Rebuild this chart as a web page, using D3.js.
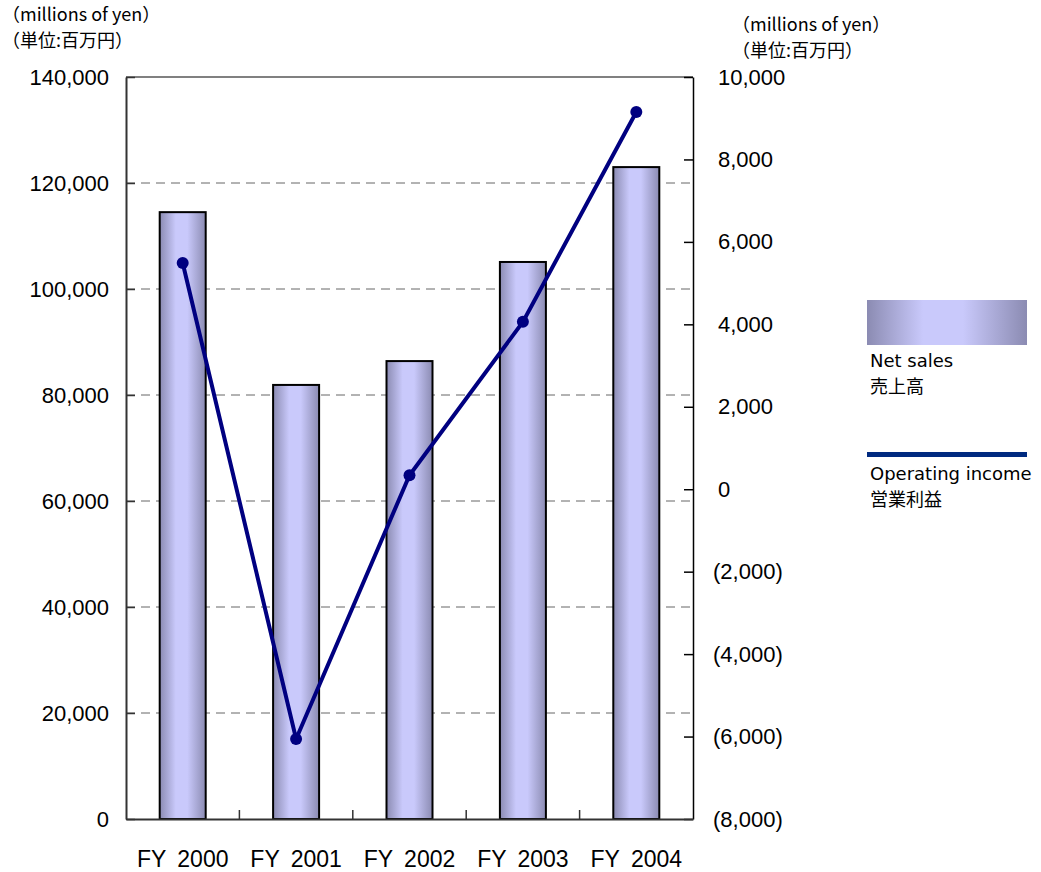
<!DOCTYPE html>
<html lang="en">
<head>
    <meta charset="UTF-8">
    <title>Net sales / Operating income</title>
    <script src="https://d3js.org/d3.v7.min.js"></script>
    <style>
        html, body{
            margin:0;
            background:#fff;
        }
        .tick text{
            font-family: "Liberation Sans", Arial, sans-serif;
        }
        .unit{
            font-family: "Noto Sans CJK JP", sans-serif;
            font-size: 18px;
        }
        .legend text{
            font-family: "DejaVu Sans", "Noto Sans CJK JP", sans-serif;
            font-size: 18px;
        }
    </style>
</head>
<body>
<div id="chart"></div>
<script>
    // data
    var years = ["FY 2000", "FY 2001", "FY 2002", "FY 2003", "FY 2004"];
    var netSales = [114500, 81900, 86400, 105100, 123000];
    var opIncome = [5490, -6060, 340, 4060, 9150];
    var leftTicks = [0, 20000, 40000, 60000, 80000, 100000, 120000, 140000];
    var rightTicks = [-8000, -6000, -4000, -2000, 0, 2000, 4000, 6000, 8000, 10000];

    var W = 1041, H = 872;
    var margin = {top: 77, left: 126, right: W - 693, bottom: H - 819};
    var width = W - margin.left - margin.right,
        height = H - margin.top - margin.bottom;

    var svg = d3.select("#chart").append("svg")
        .attr("width", W)
        .attr("height", H);

    var defs = svg.append("defs");
    var grad = defs.append("linearGradient")
        .attr("id", "barGrad")
        .attr("x1", "0%").attr("x2", "100%").attr("y1", "0%").attr("y2", "0%");
    grad.append("stop").attr("offset", "0%").attr("stop-color", "#8b8bb2");
    grad.append("stop").attr("offset", "35%").attr("stop-color", "#c9c9fb");
    grad.append("stop").attr("offset", "60%").attr("stop-color", "#c9c9fb");
    grad.append("stop").attr("offset", "100%").attr("stop-color", "#8b8bb2");

    var g = svg.append("g")
        .attr("transform", "translate(" + margin.left + "," + margin.top + ")");

    var x = d3.scaleBand().domain(years).range([0, width]);
    var yL = d3.scaleLinear().domain([0, 140000]).range([height, 0]);
    var yR = d3.scaleLinear().domain([-8000, 10000]).range([height, 0]);

    var fmt = d3.format(",");
    var fmtR = function(d) { return d < 0 ? "(" + fmt(-d) + ")" : fmt(d); };

    // dashed gridlines
    g.append("g")
        .selectAll("line")
        .data(leftTicks.filter(function(d) { return d > 0 && d < 140000; }))
        .join("line")
        .attr("x1", 0).attr("x2", width)
        .attr("y1", function(d) { return yL(d); })
        .attr("y2", function(d) { return yL(d); })
        .attr("stroke", "#666")
        .attr("stroke-width", 1)
        .attr("stroke-dasharray", "9,6");

    // top border
    g.append("line")
        .attr("x1", 0).attr("x2", width)
        .attr("y1", 0).attr("y2", 0)
        .attr("stroke", "#808080")
        .attr("stroke-width", 2);

    // bars
    var bw = 46;
    g.selectAll(".bar")
        .data(netSales)
        .join("rect")
        .attr("class", "bar")
        .attr("x", function(d, i) { return x(years[i]) + x.bandwidth() / 2 - bw / 2; })
        .attr("y", function(d) { return yL(d); })
        .attr("width", bw)
        .attr("height", function(d) { return height - yL(d); })
        .attr("fill", "url(#barGrad)")
        .attr("stroke", "#000")
        .attr("stroke-width", 2);

    // left axis
    var axL = g.append("g")
        .call(d3.axisLeft(yL).tickValues(leftTicks).tickFormat(fmt).tickSizeInner(-9).tickSizeOuter(0).tickPadding(17));
    axL.select(".domain").attr("stroke", "#333").attr("stroke-width", 2);
    axL.selectAll(".tick line").attr("stroke", "#333").attr("stroke-width", 1.5);
    axL.selectAll(".tick text").attr("font-size", "22px").attr("fill", "#000");

    // right axis
    var axR = g.append("g")
        .attr("transform", "translate(" + width + ",0)")
        .call(d3.axisRight(yR).tickValues(rightTicks).tickFormat(fmtR).tickSizeInner(-9).tickSizeOuter(0).tickPadding(0));
    axR.select(".domain").attr("stroke", "#000").attr("stroke-width", 1.5);
    axR.selectAll(".tick text")
        .attr("font-size", "22px").attr("fill", "#000")
        .attr("x", function(d) { return d < 0 ? 20 : 25; });
    axR.selectAll(".tick line").attr("stroke", "#000").attr("stroke-width", 1.5);

    // bottom axis
    var axB = g.append("g")
        .attr("transform", "translate(0," + height + ")")
        .call(d3.axisBottom(x).tickSize(0).tickPadding(32));
    axB.select(".domain").attr("stroke", "#333").attr("stroke-width", 2);
    axB.selectAll(".tick text")
        .attr("font-size", "23px").attr("fill", "#000")
        .attr("word-spacing", "5px");
    g.append("g")
        .selectAll("line")
        .data(years.slice(1))
        .join("line")
        .attr("x1", function(d) { return x(d); })
        .attr("x2", function(d) { return x(d); })
        .attr("y1", height).attr("y2", height - 9)
        .attr("stroke", "#333").attr("stroke-width", 1.5);

    // operating income line
    var line = d3.line()
        .x(function(d, i) { return x(years[i]) + x.bandwidth() / 2; })
        .y(function(d) { return yR(d); });
    g.append("path")
        .datum(opIncome)
        .attr("d", line)
        .attr("fill", "none")
        .attr("stroke", "#000080")
        .attr("stroke-width", 4);
    g.selectAll(".dot")
        .data(opIncome)
        .join("circle")
        .attr("class", "dot")
        .attr("cx", function(d, i) { return x(years[i]) + x.bandwidth() / 2; })
        .attr("cy", function(d) { return yR(d); })
        .attr("r", 6)
        .attr("fill", "#000080");

    // unit labels
    svg.append("text").attr("class", "unit").attr("x", 2).attr("y", 21).text("（millions of yen）");
    svg.append("text").attr("class", "unit").attr("x", 2).attr("y", 47).text("（単位:百万円）");
    svg.append("text").attr("class", "unit").attr("x", 732).attr("y", 31).text("（millions of yen）");
    svg.append("text").attr("class", "unit").attr("x", 732).attr("y", 57).text("（単位:百万円）");

    // legend
    var lg = svg.append("g").attr("class", "legend");
    lg.append("rect")
        .attr("x", 867).attr("y", 300).attr("width", 160).attr("height", 45)
        .attr("fill", "url(#barGrad)");
    lg.append("text").attr("x", 870).attr("y", 367).text("Net sales");
    lg.append("text").attr("x", 870).attr("y", 393).text("売上高");
    lg.append("rect")
        .attr("x", 867).attr("y", 452).attr("width", 160).attr("height", 5)
        .attr("fill", "#002a80");
    lg.append("text").attr("x", 870).attr("y", 480).text("Operating income");
    lg.append("text").attr("x", 870).attr("y", 506).text("営業利益");
</script>
</body>
</html>
